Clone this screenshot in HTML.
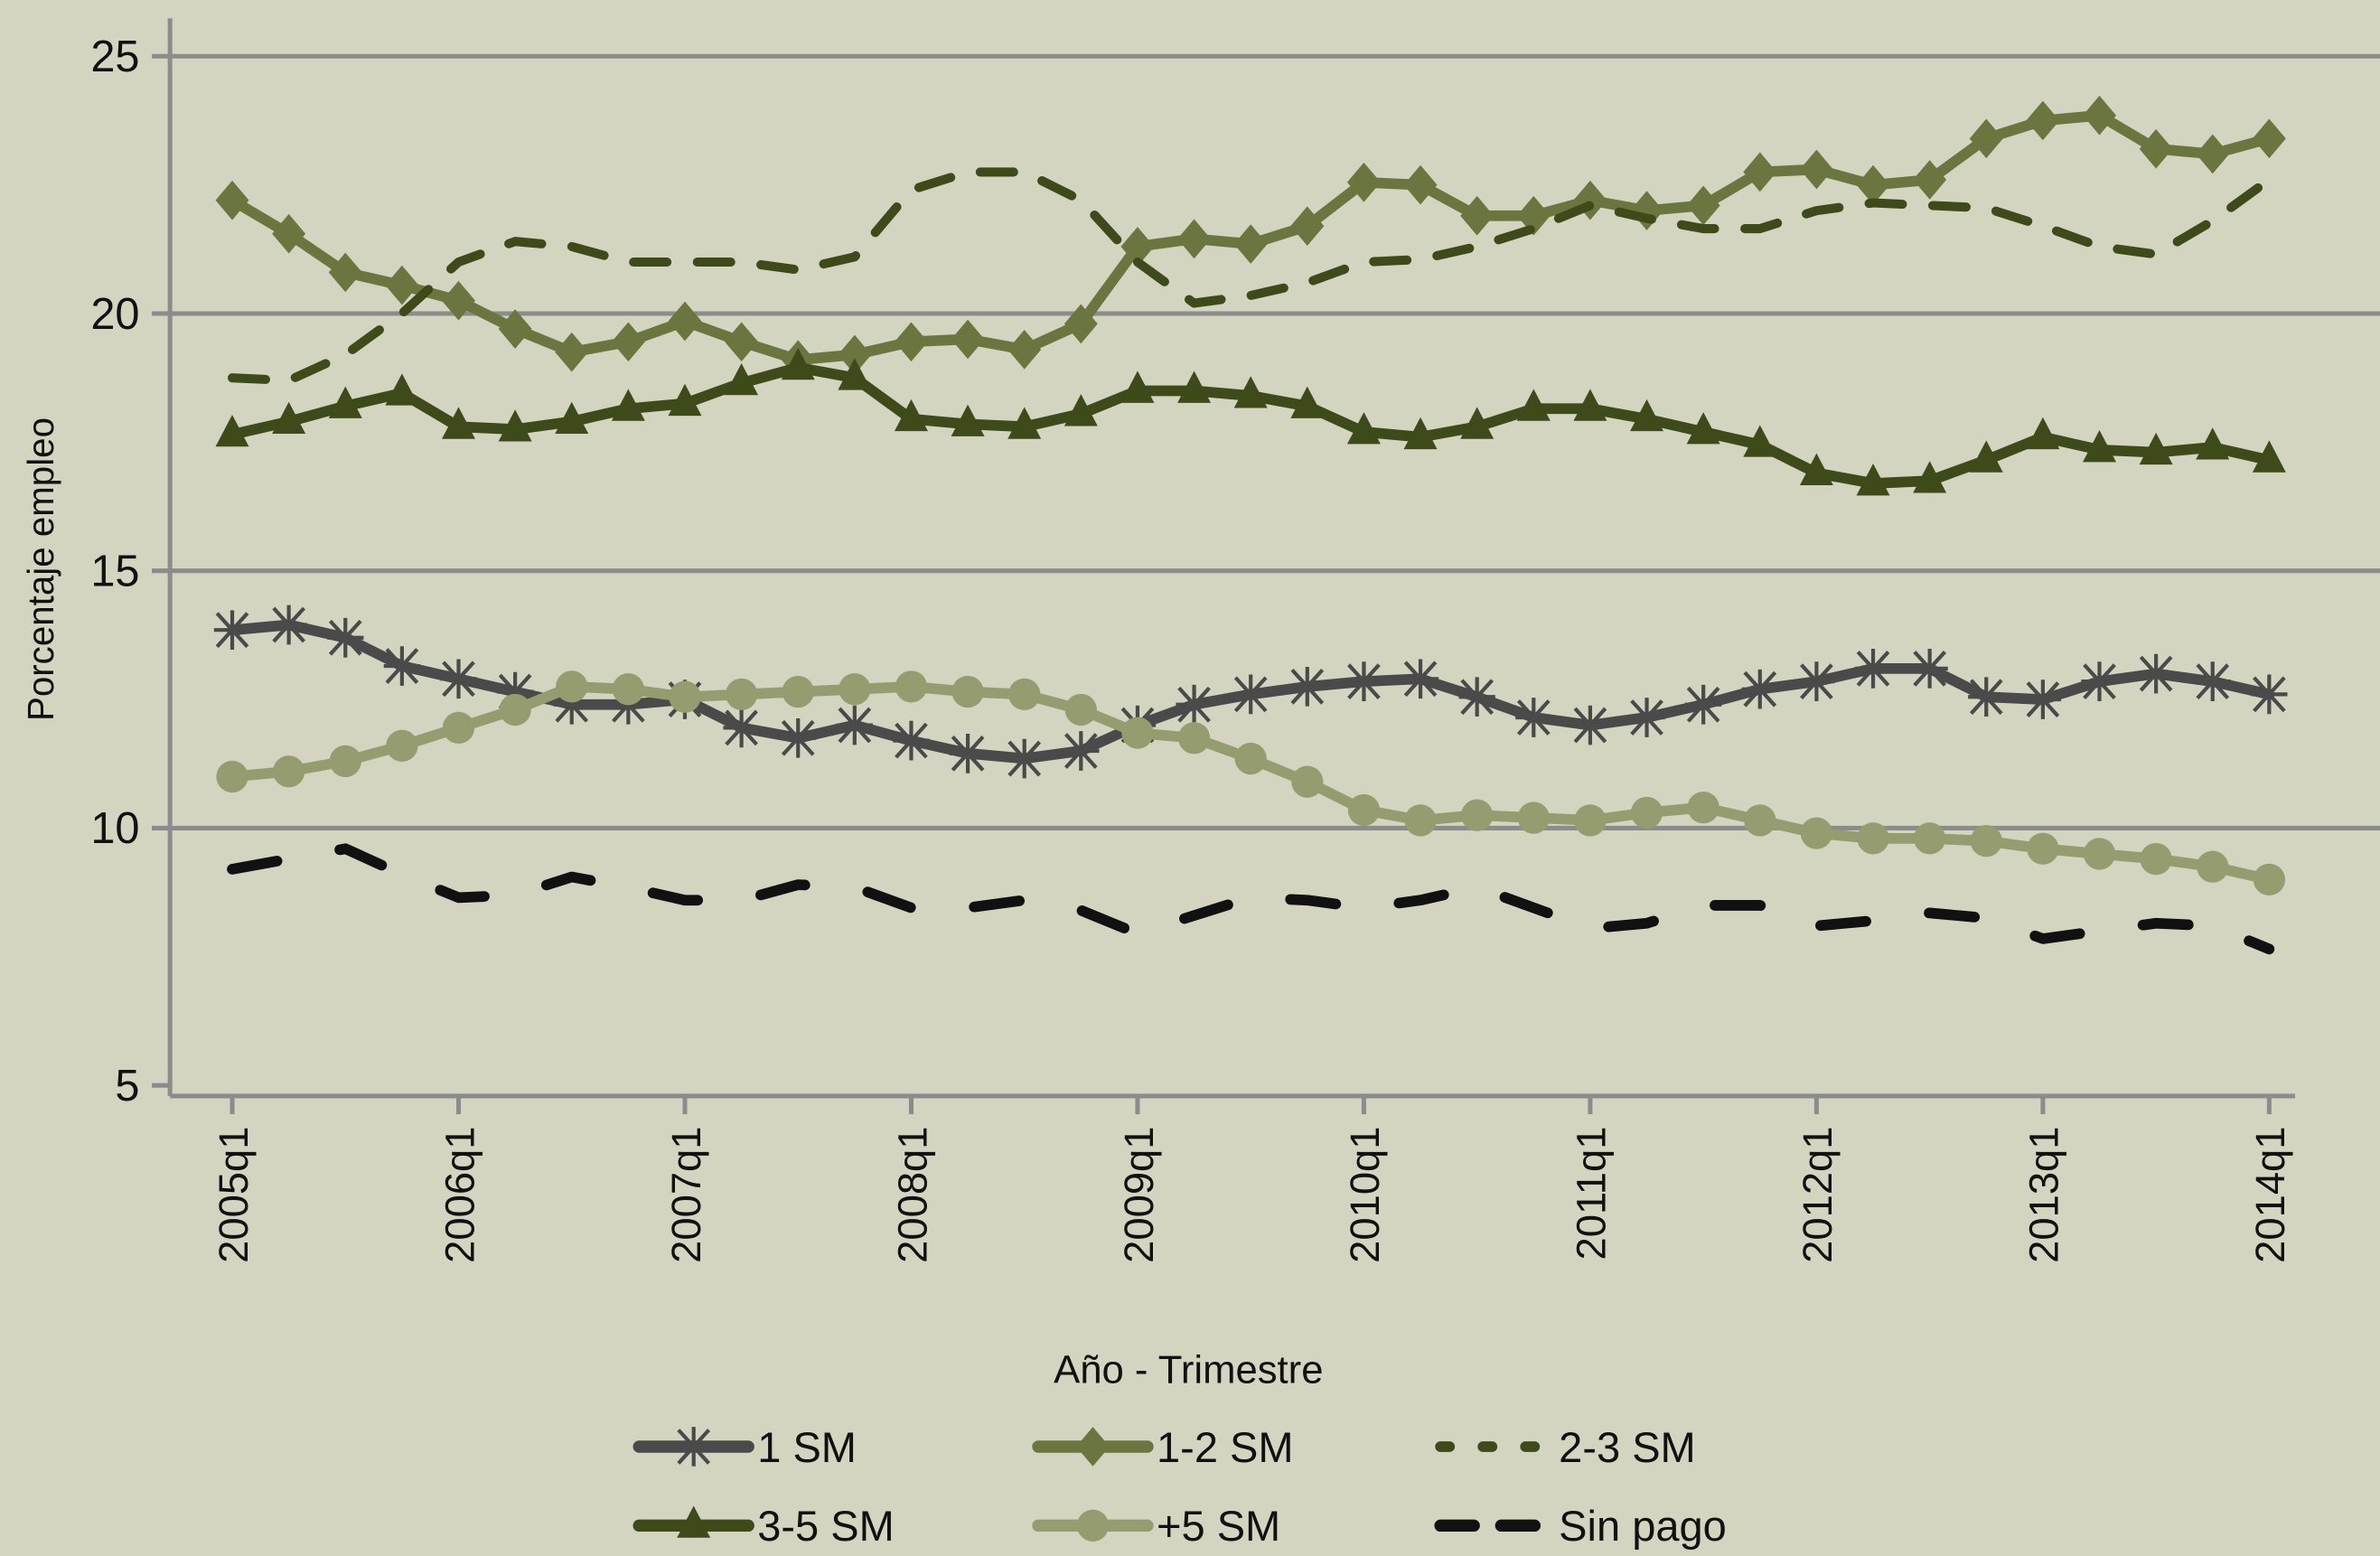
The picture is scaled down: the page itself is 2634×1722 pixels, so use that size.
<!DOCTYPE html>
<html><head><meta charset="utf-8"><style>
html,body{margin:0;padding:0;background:#d3d5c0;}
svg{display:block;}
text{font-family:"Liberation Sans Narrow","Liberation Sans",sans-serif;fill:#111;}
</style></head><body>
<svg id="chart" width="2634" height="1722" viewBox="0 0 1568 1025" xmlns="http://www.w3.org/2000/svg">
<rect x="0" y="0" width="1568" height="1025" fill="#d3d5c0"/>
<g id="grid"></g>
<g id="axes"></g>
<g id="series"></g>
<text x="783" y="911" text-anchor="middle" font-size="26">Año - Trimestre</text>
<text transform="translate(35,375) rotate(-90)" text-anchor="middle" font-size="24">Porcentaje empleo</text>
<g id="legend"></g>
</svg>
<script>
const yTicks = [5, 10, 15, 20, 25];
const gridTicks = [10, 15, 20, 25];
const xLabels = ["2005q1","2006q1","2007q1","2008q1","2009q1","2010q1","2011q1","2012q1","2013q1","2014q1"];
const nQuarters = 37;
const s1SM = [13.85,13.95,13.7,13.15,12.9,12.65,12.4,12.4,12.5,11.95,11.75,12.0,11.7,11.45,11.35,11.5,12.0,12.4,12.6,12.75,12.85,12.9,12.55,12.15,12.0,12.15,12.4,12.7,12.85,13.1,13.1,12.55,12.5,12.85,13.0,12.85,12.6];
const s12SM = [22.2,21.55,20.8,20.55,20.25,19.7,19.25,19.45,19.85,19.45,19.1,19.2,19.45,19.5,19.3,19.8,21.3,21.45,21.35,21.7,22.55,22.5,21.9,21.9,22.2,22.0,22.1,22.75,22.8,22.5,22.6,23.4,23.75,23.85,23.2,23.1,23.4];
const s23SM = [18.75,18.7,19.2,20.0,21.0,21.4,21.3,21.0,21.0,21.0,20.85,21.1,22.4,22.75,22.75,22.2,21.0,20.2,20.35,20.6,21.0,21.05,21.3,21.65,22.1,21.85,21.65,21.65,22.0,22.15,22.1,22.05,21.7,21.3,21.15,21.8,22.6];
const s35SM = [17.65,17.9,18.2,18.45,17.8,17.75,17.9,18.15,18.25,18.65,18.95,18.75,17.95,17.85,17.8,18.05,18.5,18.5,18.4,18.2,17.7,17.6,17.8,18.15,18.15,17.95,17.7,17.45,16.9,16.7,16.75,17.15,17.6,17.35,17.3,17.4,17.15];
const s5SM = [11.0,11.1,11.3,11.6,11.95,12.3,12.75,12.7,12.55,12.6,12.65,12.7,12.75,12.65,12.6,12.3,11.85,11.75,11.35,10.9,10.35,10.15,10.25,10.2,10.15,10.3,10.4,10.15,9.9,9.8,9.8,9.75,9.6,9.5,9.4,9.25,9.0];
const sSinPago = [9.2,9.4,9.6,9.1,8.65,8.7,9.05,8.85,8.6,8.6,8.9,8.85,8.45,8.45,8.6,8.4,7.95,8.3,8.65,8.6,8.45,8.6,8.85,8.45,8.05,8.15,8.5,8.5,8.1,8.2,8.35,8.25,7.85,8.0,8.15,8.1,7.65];

const NS="http://www.w3.org/2000/svg";
const X0=153, X1=1495, AXL=112, AXB=722;
function xs(i){return X0+(X1-X0)*i/(nQuarters-1);}
function ys(v){return 715-(v-5)*(715-37)/20;}
function mk(tag,attrs,parent){const e=document.createElementNS(NS,tag);for(const k in attrs)e.setAttribute(k,attrs[k]);parent.appendChild(e);return e;}
const grid=document.getElementById('grid'), axes=document.getElementById('axes'), series=document.getElementById('series'), legend=document.getElementById('legend');

gridTicks.forEach(t=>{
  const l=mk('line',{x1:AXL,x2:1568,y1:ys(t),y2:ys(t),stroke:'#8c8c8c','stroke-width':3},grid);
  
  
});
const ya=mk('line',{x1:AXL,x2:AXL,y1:12,y2:AXB,stroke:'#8c8c8c','stroke-width':3},axes);


const xa=mk('line',{x1:AXL,x2:1512,y1:AXB,y2:AXB,stroke:'#8c8c8c','stroke-width':3},axes);


yTicks.forEach(t=>{
  const tk=mk('line',{x1:100,x2:AXL,y1:ys(t),y2:ys(t),stroke:'#8c8c8c','stroke-width':3},axes);
  
  
  const tx=mk('text',{x:92,y:ys(t)+10,'text-anchor':'end','font-size':29},axes);
  tx.textContent=t;
  
  
});
xLabels.forEach((lab,k)=>{
  const x=xs(k*4);
  const tk=mk('line',{x1:x,x2:x,y1:AXB,y2:734,stroke:'#8c8c8c','stroke-width':3},axes);
  
  
  const tx=mk('text',{transform:'translate('+(x+10)+',742) rotate(-90)','text-anchor':'end','font-size':27},axes);
  tx.textContent=lab;
  
  
});

function marker(type,x,y,color,parent){
  let e;
  if(type==='star'){
    e=mk('path',{d:`M${x-10},${y-11}L${x+10},${y+11}M${x-10},${y+11}L${x+10},${y-11}M${x},${y-13}L${x},${y+13}M${x-12},${y}L${x+12},${y}`,stroke:color,'stroke-width':2.5,fill:'none'},parent);
  }else if(type==='diamond'){
    e=mk('path',{d:`M${x},${y-13}L${x+11},${y}L${x},${y+13}L${x-11},${y}Z`,fill:color},parent);
  }else if(type==='tri'){
    e=mk('path',{d:`M${x},${y-13}L${x+11},${y+8}L${x-11},${y+8}Z`,fill:color},parent);
  }else if(type==='circle'){
    e=mk('circle',{cx:x,cy:y,r:10.5,fill:color},parent);
  }
  return e;
}
const defs=[
  {name:'1 SM',key:'1-sm',data:s1SM,color:'#4a4a4a',m:'star',dash:null,w:7},
  {name:'1-2 SM',key:'1-2-sm',data:s12SM,color:'#6b7540',m:'diamond',dash:null,w:7},
  {name:'2-3 SM',key:'2-3-sm',data:s23SM,color:'#3f4a1a',m:null,dash:'22 20',w:6},
  {name:'3-5 SM',key:'3-5-sm',data:s35SM,color:'#3f4a1a',m:'tri',dash:null,w:7},
  {name:'+5 SM',key:'plus-5-sm',data:s5SM,color:'#959d70',m:'circle',dash:null,w:7},
  {name:'Sin pago',key:'sin-pago',data:sSinPago,color:'#111111',m:null,dash:'30 42',w:7}
];
defs.forEach(d=>{
  const g=mk('g',{},series);
  
  
  const pts=d.data.map((v,i)=>xs(i).toFixed(1)+','+ys(v).toFixed(1)).join(' ');
  const attrs={points:pts,fill:'none',stroke:d.color,'stroke-width':d.w,'stroke-linejoin':'round','stroke-linecap':'round'};
  if(d.dash)attrs['stroke-dasharray']=d.dash;
  const pl=mk('polyline',attrs,g);
  
  
  if(d.m){
    d.data.forEach((v,i)=>{
      const e=marker(d.m,xs(i),ys(v),d.color,g);
      
      
    });
  }
});
const legPos=[[417,953],[680,953],[945,953],[417,1005],[680,1005],[945,1005]];
defs.forEach((d,k)=>{
  const [lx,ly]=legPos[k];
  const g=mk('g',{},legend);
  
  
  const attrs={x1:lx+4,x2:lx+76,y1:ly,y2:ly,stroke:d.color,'stroke-width':d.w+1,'stroke-linecap':'round'};
  if(d.key==='2-3-sm')attrs['stroke-dasharray']='6 22';
  if(d.key==='sin-pago')attrs['stroke-dasharray']='22 18';
  const ln=mk('line',attrs,g);
  
  
  if(d.m){
    const e=marker(d.m,lx+40,ly,d.color,g);
    
    
  }
  const t=mk('text',{x:lx+82,y:ly+10,'font-size':28},g);
  t.textContent=d.name;
  
  
});
</script>
</body></html>
